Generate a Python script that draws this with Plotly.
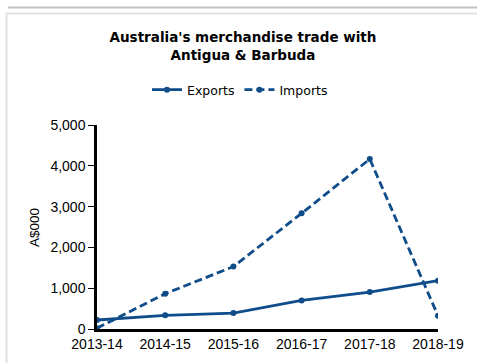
import plotly.graph_objects as go

# Financial years and trade values (A$000)
years = ["2013-14", "2014-15", "2015-16", "2016-17", "2017-18", "2018-19"]
exports = [220, 335, 390, 700, 905, 1185]
imports = [20, 865, 1530, 2835, 4165, 325]
y_ticks = [0, 1000, 2000, 3000, 4000, 5000]
y_tick_labels = ["0", "1,000", "2,000", "3,000", "4,000", "5,000"]
y_title = "A$000"

W, H = 477, 363
L, R, T, B = 97, 39, 125, 34
PW, PH = W - L - R, H - T - B

def px_x(p):
    return (p - L) / PW

def px_y(p):
    return (H - B - p) / PH

LINE = "#0f4c8a"
TICK_FONT = dict(family="Arial, Liberation Sans", size=14, color="black")

fig = go.Figure()
fig.add_trace(go.Scatter(
    x=years, y=exports, name="Exports", mode="lines+markers",
    line=dict(color=LINE, width=2.8),
    marker=dict(size=6, color=LINE),
))
fig.add_trace(go.Scatter(
    x=years, y=imports, name="Imports", mode="lines+markers",
    line=dict(color=LINE, width=2.8, dash="8px,4px"),
    marker=dict(size=6, color=LINE),
))

# panel frame lines
shapes = [
    dict(type="line", xref="paper", yref="paper",
         x0=px_x(8), x1=px_x(477), y0=px_y(7.5), y1=px_y(7.5),
         line=dict(color="#c2c2c2", width=2)),
    dict(type="line", xref="paper", yref="paper",
         x0=px_x(6), x1=px_x(477), y0=px_y(13.5), y1=px_y(13.5),
         line=dict(color="#e2e2e2", width=2)),
    dict(type="line", xref="paper", yref="paper",
         x0=px_x(6.5), x1=px_x(6.5), y0=px_y(13), y1=px_y(363),
         line=dict(color="#e2e2e2", width=2)),
]

# rotated y-axis title placed beside the tick labels
annotations = [
    dict(text=y_title, textangle=-90, showarrow=False,
         xref="paper", yref="paper", x=px_x(34), y=px_y(228),
         xanchor="center", yanchor="middle",
         font=dict(family="Arial, Liberation Sans", size=13.5, color="black")),
]

fig.update_layout(
    width=W, height=H,
    margin=dict(l=L, r=R, t=T, b=B, autoexpand=False),
    paper_bgcolor="white", plot_bgcolor="white",
    shapes=shapes,
    annotations=annotations,
    title=dict(
        text="Australia's merchandise trade with<br>Antigua & Barbuda",
        x=243 / W, xanchor="center", xref="container",
        y=1 - 42 / H, yanchor="top", yref="container",
        font=dict(family="DejaVu Sans", size=13.5, color="black", weight="bold"),
    ),
    legend=dict(
        orientation="h", x=px_x(240), xanchor="center",
        y=px_y(90), yanchor="middle",
        font=dict(family="DejaVu Sans", size=12.5, color="black"),
        itemwidth=30, tracegroupgap=0,
    ),
    showlegend=True,
    xaxis=dict(
        type="category", range=[0, 5], showgrid=False, zeroline=False,
        showline=True, linecolor="black", linewidth=3,
        ticks="", ticklabelstandoff=0,
        tickfont=TICK_FONT, automargin=False,
        fixedrange=True,
    ),
    yaxis=dict(
        range=[0, 5000], tickvals=y_ticks, ticktext=y_tick_labels,
        showgrid=False, zeroline=False,
        showline=True, linecolor="black", linewidth=2.5,
        ticks="outside", ticklen=6, tickcolor="black", tickwidth=1,
        tickfont=TICK_FONT, automargin=False,
        fixedrange=True,
    ),
)

fig.write_html("out.html")
